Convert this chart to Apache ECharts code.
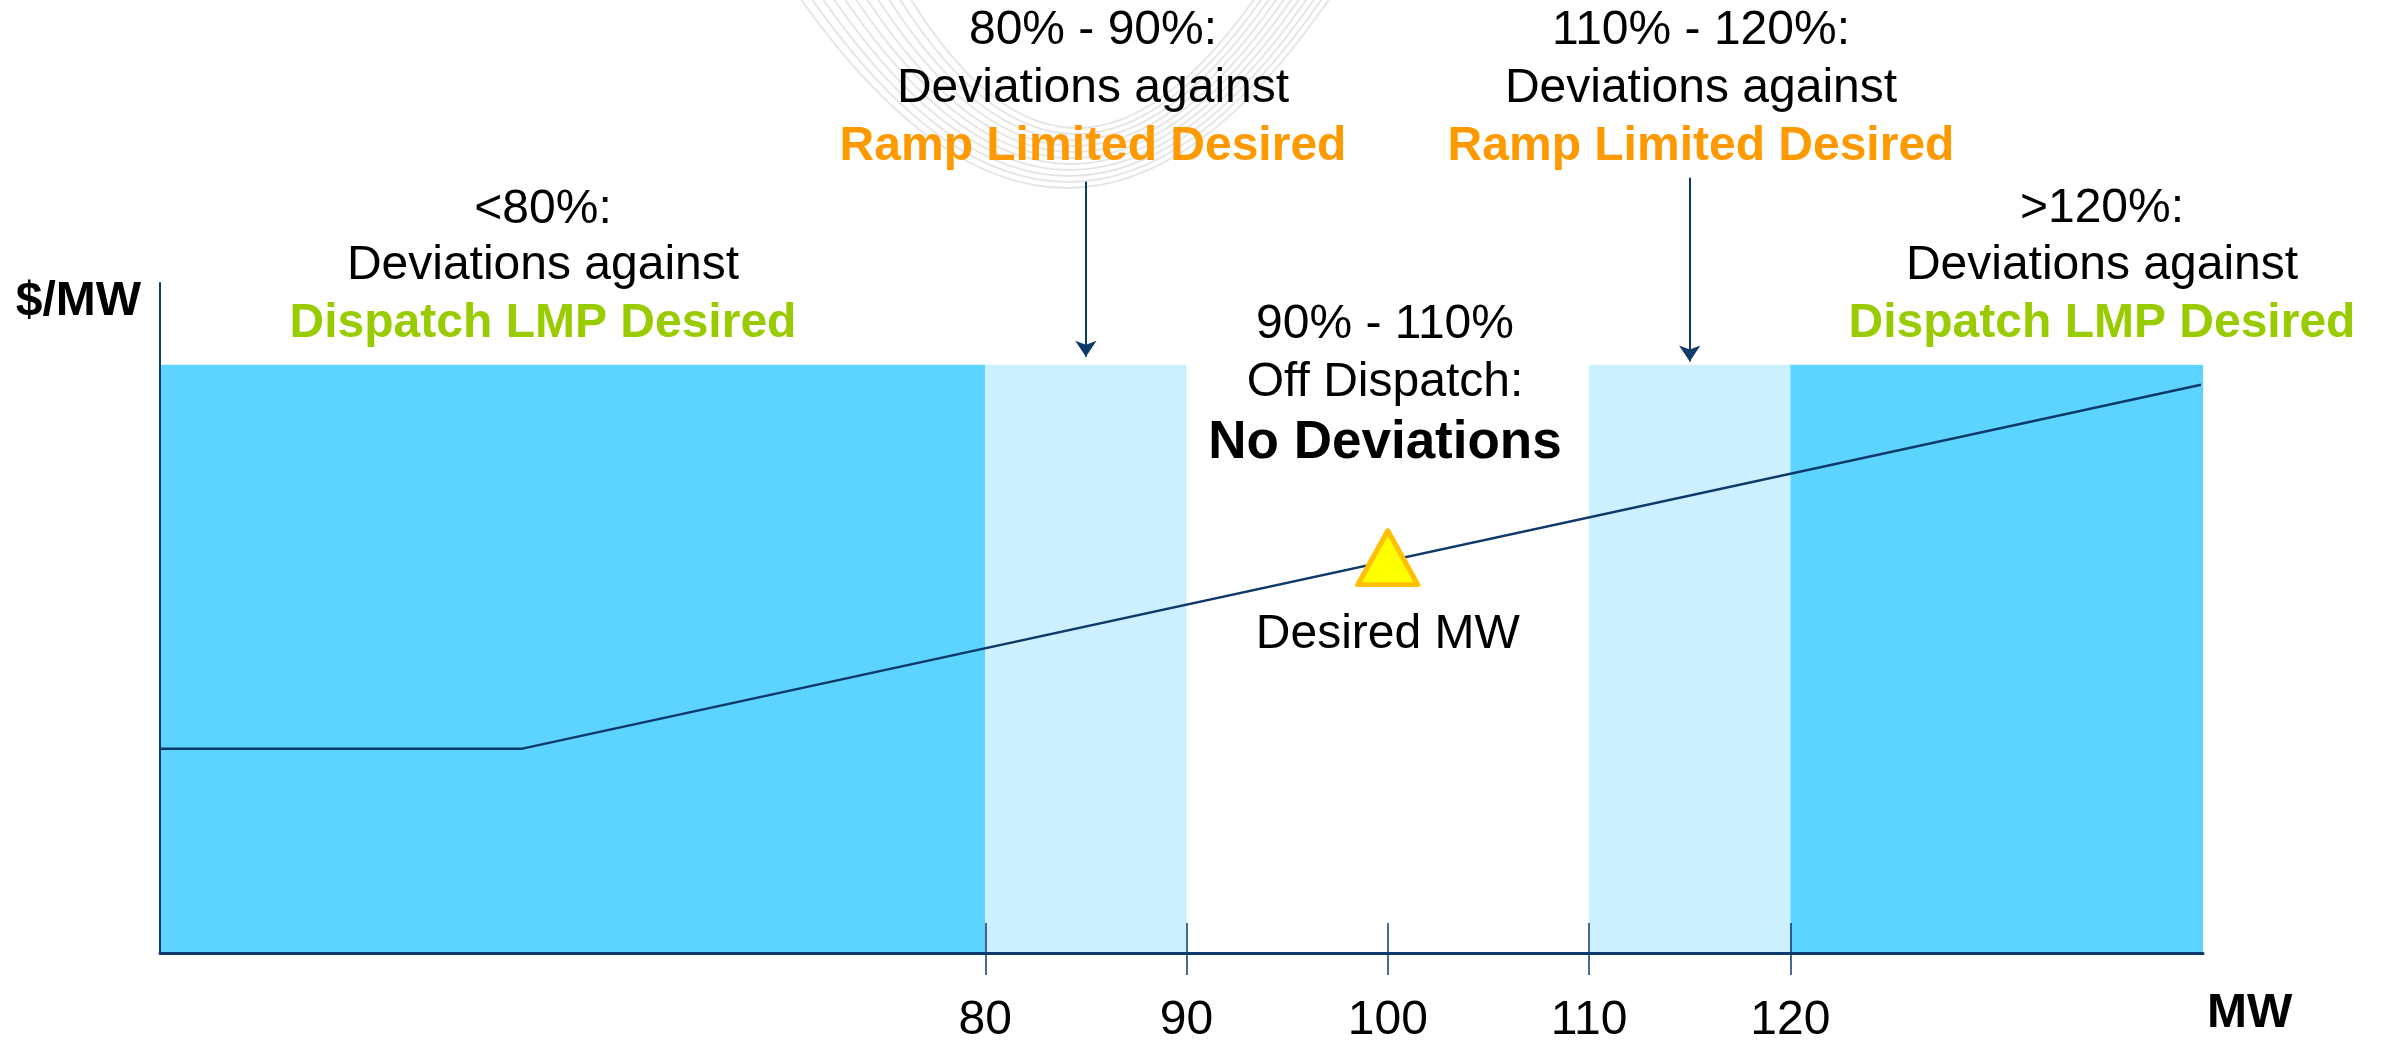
<!DOCTYPE html>
<html>
<head>
<meta charset="utf-8">
<script src="https://cdn.jsdelivr.net/npm/echarts@6/dist/echarts.min.js"></script>
<style>
html,body{margin:0;padding:0;background:#fff;}
#chart{width:2387px;height:1041px;}
</style>
</head>
<body>
<div id="chart"></div>
<script>
// ---- data ----
const xTicks = [80, 90, 100, 110, 120];
const xRange = [39, 140.5];
const yRange = [0, 100];
const bandEdges = [39, 80, 90, 110, 120, 140.5];
const bandKinds = ['dark', 'light', 'none', 'light', 'dark'];
const bandTop = 87.8;
const curveX = [39, 57, 140.4];
const curveY = [30.5, 30.5, 84.8];
const desiredPoint = [100, 59];
const arrowX = [85, 115];
const arrowFrom = [115.1, 115.7];
const arrowTo = [89.0, 88.3];

const txtBelow80 = ['<80%:', 'Deviations against', 'Dispatch LMP Desired'];
const txt80to90 = ['80% - 90%:', 'Deviations against', 'Ramp Limited Desired'];
const txt90to110 = ['90% - 110%', 'Off Dispatch:', 'No Deviations'];
const txt110to120 = ['110% - 120%:', 'Deviations against', 'Ramp Limited Desired'];
const txtAbove120 = ['>120%:', 'Deviations against', 'Dispatch LMP Desired'];
const desiredLabel = 'Desired MW';
const yName = '$/MW';
const xName = 'MW';

// ---- styles ----
const FONT = "'Liberation Sans', Arial, sans-serif";
const NAVY = '#0D3A6B';
const DARK = '#5DD3FF';
const LIGHT = '#CCF0FF';
const GREEN = '#99CC00';
const ORANGE = '#FF9900';

const chart = echarts.init(document.getElementById('chart'), null, {renderer: 'canvas'});

const bandData = [];
for (let i = 0; i < bandKinds.length; i++) {
  if (bandKinds[i] === 'none') continue;
  bandData.push([
    {xAxis: bandEdges[i], yAxis: 0, itemStyle: {color: bandKinds[i] === 'dark' ? DARK : LIGHT}},
    {xAxis: bandEdges[i + 1], yAxis: bandTop}
  ]);
}

function textLine(str, cx, cy, opt) {
  return {
    type: 'text', x: cx, y: cy, z: 10,
    style: {
      text: str, align: 'center', verticalAlign: 'middle',
      fontFamily: FONT, fontSize: opt.size || 48,
      fontWeight: opt.bold ? 'bold' : 'normal',
      fill: opt.color || '#000'
    }
  };
}
function block(lines, cx, ys, styles) {
  return lines.map((s, i) => textLine(s, cx, ys[i], styles[i]));
}
const plain = {}, boldGreen = {bold: true, color: GREEN}, boldOrange = {bold: true, color: ORANGE};

const graphics = [];
// faint decorative swoosh
const nArc = 11;
for (let i = 0; i < nArc; i++) {
  const t = i / (nArc - 1);
  const sx = 800 + 110 * t, ex = 1330 - 75 * t, by = 188 - 60 * t, bx = 1067 + 10 * t;
  const cpx = (4 * bx - sx - ex) / 2;
  graphics.push({
    type: 'bezierCurve', z: 0, silent: true,
    shape: {x1: sx, y1: -2, x2: ex, y2: -2, cpx1: cpx, cpy1: 2 * by + 2},
    style: {stroke: '#E4E4E4', lineWidth: 1.8, fill: null}
  });
}
graphics.push(...block(txtBelow80, 543, [210, 266, 324], [plain, plain, boldGreen]));
graphics.push(...block(txt80to90, 1093, [31, 89, 147], [plain, plain, boldOrange]));
graphics.push(...block(txt110to120, 1701, [31, 89, 147], [plain, plain, boldOrange]));
graphics.push(...block(txtAbove120, 2102, [209, 266, 324], [plain, plain, boldGreen]));
graphics.push(...block(txt90to110, 1385, [325, 383, 443], [plain, plain, {bold: true, size: 53}]));

const option = {
  animation: false,
  backgroundColor: '#fff',
  grid: {left: 160, right: 184, top: 283, bottom: 88, containLabel: false, outerBoundsMode: 'none'},
  xAxis: [
    {
      type: 'value', position: 'bottom', min: xRange[0], max: xRange[1], z: 5,
      axisLine: {show: true, onZero: false, lineStyle: {color: NAVY, width: 3}},
      axisTick: {show: true, inside: false, length: 22, customValues: xTicks,
        lineStyle: {color: NAVY, width: 1.5}},
      axisLabel: {show: true, customValues: xTicks, margin: 44,
        fontFamily: FONT, fontSize: 48, color: '#000'},
      splitLine: {show: false}
    },
    {
      type: 'value', position: 'bottom', min: xRange[0], max: xRange[1], z: 5,
      axisLine: {show: false, onZero: false},
      axisTick: {show: true, inside: true, length: 30, customValues: xTicks,
        lineStyle: {color: NAVY, width: 1.5}},
      axisLabel: {show: false},
      splitLine: {show: false}
    },
    {
      type: 'value', position: 'bottom', offset: 61, min: xRange[0], max: xRange[1], z: 5,
      name: xName, nameLocation: 'end', nameGap: 4,
      nameTextStyle: {fontFamily: FONT, fontSize: 48, fontWeight: 'bold', color: '#000',
        align: 'left', verticalAlign: 'middle'},
      axisLine: {show: false, onZero: false},
      axisTick: {show: false},
      axisLabel: {show: false},
      splitLine: {show: false}
    }
  ],
  yAxis: {
    type: 'value', min: yRange[0], max: yRange[1], z: 5,
    name: yName, nameLocation: 'end', nameGap: -19,
    nameTextStyle: {fontFamily: FONT, fontSize: 48, fontWeight: 'bold', color: '#000',
      align: 'right', verticalAlign: 'middle', padding: [0, 19, 0, 0]},
    axisLine: {show: true, onZero: false, lineStyle: {color: NAVY, width: 2}},
    axisTick: {show: false},
    axisLabel: {show: false},
    splitLine: {show: false}
  },
  series: [
    {
      type: 'line', z: 1, data: [], silent: true,
      markArea: {silent: true, data: bandData}
    },
    {
      type: 'line', z: 3, symbol: 'none', silent: true,
      data: curveX.map((x, i) => [x, curveY[i]]),
      lineStyle: {color: NAVY, width: 2.5}
    },
    {
      type: 'scatter', z: 4, silent: true,
      data: [desiredPoint],
      symbol: 'triangle', symbolSize: [60, 54],
      itemStyle: {color: '#FFFF00', borderColor: '#FFC000', borderWidth: 5, borderJoin: 'round', opacity: 1},
      label: {show: true, position: 'bottom', distance: 24, formatter: desiredLabel,
        fontFamily: FONT, fontSize: 48, color: '#000'}
    },
    {
      type: 'lines', coordinateSystem: 'cartesian2d', z: 4, silent: true, clip: false,
      symbol: ['none', 'arrow'], symbolSize: 16,
      lineStyle: {color: NAVY, width: 2, opacity: 1, curveness: 0},
      data: arrowX.map((x, i) => ({coords: [[x, arrowFrom[i]], [x, arrowTo[i]]]}))
    }
  ],
  graphic: graphics
};
chart.setOption(option);
</script>
</body>
</html>
